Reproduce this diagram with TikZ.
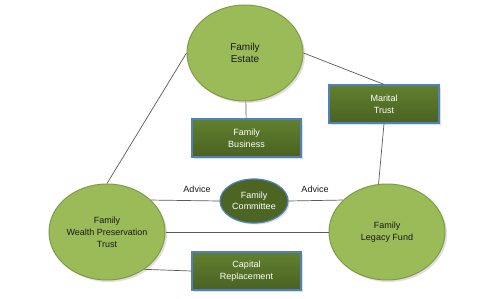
\documentclass[tikz,border=0pt]{standalone}
\usepackage{fontspec}
\setmainfont{Liberation Sans}
\usetikzlibrary{shapes.geometric,shadows}
\definecolor{ovalgreen}{HTML}{9BBB59}
\definecolor{ovalline}{HTML}{7E9C45}
\definecolor{boxtop}{HTML}{61802F}
\definecolor{boxbot}{HTML}{4A6222}
\definecolor{boxline}{HTML}{4F81BD}
\definecolor{wire}{HTML}{5A5A5A}
\tikzset{
  oval/.style={ellipse, draw=ovalline, line width=1pt, fill=ovalgreen,
    minimum width=116pt, minimum height=96pt, inner sep=0pt, align=center,
    text=black!90, font=\fontsize{9}{12}\selectfont,
    drop shadow={opacity=0.25, shadow xshift=2pt, shadow yshift=-2pt}},
  darkoval/.style={ellipse, draw=boxline, line width=1.2pt, fill=boxbot!90!boxtop,
    minimum width=68pt, minimum height=44pt, inner sep=0pt, align=center,
    text=white, font=\fontsize{9}{11}\selectfont,
    drop shadow={opacity=0.25, shadow xshift=1.5pt, shadow yshift=-1.5pt}},
  darkbox/.style={rectangle, draw=boxline, line width=1.2pt,
    top color=boxtop, bottom color=boxbot,
    minimum width=109pt, minimum height=38pt, inner sep=0pt, align=center,
    text=white, font=\fontsize{9}{12}\selectfont,
    drop shadow={opacity=0.25, shadow xshift=2pt, shadow yshift=-2pt}},
  wire/.style={draw=wire, line width=0.7pt},
  tag/.style={font=\fontsize{9}{10}\selectfont, text=black!90}
}
\begin{document}
\begin{tikzpicture}[x=1pt,y=-1pt]
\useasboundingbox[fill=white] (0,0) rectangle (500,299);
% the four ovals
\node[oval, font=\fontsize{10}{12}\selectfont] (estate) at (245,53) {Family\\Estate};
\node[oval] (wpt) at (107,232) {Family\\Wealth Preservation\\Trust};
\node[oval] (legacy) at (387,232) {Family\\Legacy Fund};
\node[darkoval] (committee) at (254,201) {Family\\Committee};
% boxes
\node[darkbox] (business) at (246.5,138) {Family\\Business};
\node[darkbox, minimum width=110pt] (marital) at (384,104) {Marital\\Trust};
\node[darkbox] (capital) at (246.5,271) {Capital\\Replacement};
% links
\draw[wire] (estate) -- (business);
\draw[wire] (estate.east) -- (marital.north);
\draw[wire] (marital.south) -- (legacy.100);
\draw[wire] (estate.west) -- (wpt.north);
\draw[wire] (wpt.36) -- (committee.west);
\draw[wire] (committee.east) -- (legacy.144);
\draw[wire] (wpt.east) -- (legacy.west);
\draw[wire] (wpt.-45) -- (capital.west);
\node[tag] (adviceL) at (197,189) {Advice};
\node[tag] (adviceR) at (315,189) {Advice};
\end{tikzpicture}
\end{document}
